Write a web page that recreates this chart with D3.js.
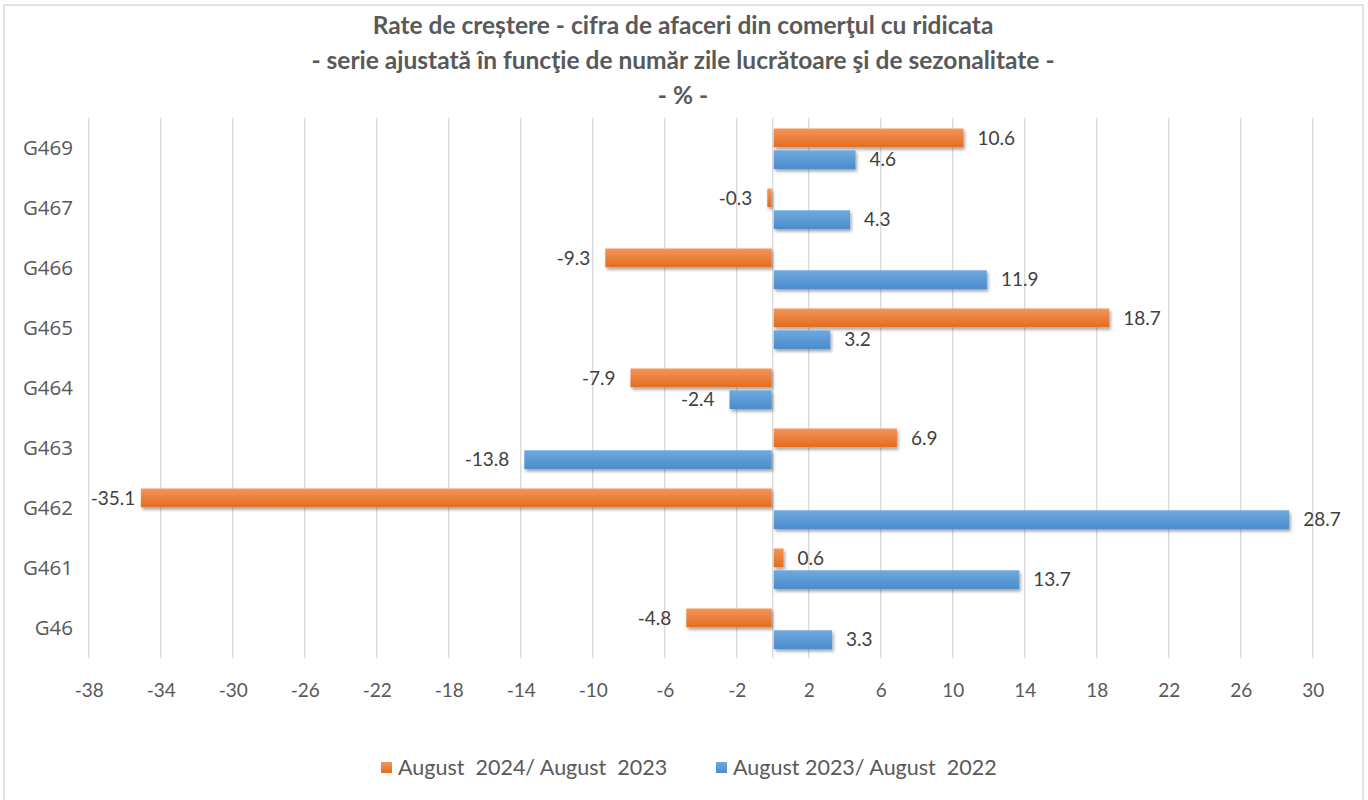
<!DOCTYPE html>
<html><head><meta charset="utf-8">
<script src="https://cdn.jsdelivr.net/npm/d3@7"></script>
<style>body{margin:0;background:#fff}svg{display:block}</style>
</head><body><svg id="c" width="1368" height="800"></svg>
<script>
const categories = ["G469","G467","G466","G465","G464","G463","G462","G461","G46"];
const seriesNames = ["August  2024/ August  2023","August 2023/ August  2022"];
const series2024 = [10.6,-0.3,-9.3,18.7,-7.9,6.9,-35.1,0.6,-4.8];
const series2023 = [4.6,4.3,11.9,3.2,-2.4,-13.8,28.7,13.7,3.3];
const tickValues = [-38,-34,-30,-26,-22,-18,-14,-10,-6,-2,2,6,10,14,18,22,26,30];
const titleLines = ["Rate de creștere - cifra de afaceri din comerţul cu ridicata","- serie ajustată în funcţie de număr zile lucrătoare şi de sezonalitate -","- % -"];
const colors = ["#ED7D31","#5B9BD5"];
const lightColors = ["#F3965C","#6FA9DE"];
const darkColors = ["#E36C1E","#4A8CCD"];

const svg = d3.select("#c");
const m={left:88.7,right:1312.7,top:118,bottom:658};
const defs = svg.append("defs");
colors.forEach((c,i)=>{
  const g=defs.append("linearGradient").attr("id","g"+i).attr("x1",0).attr("y1",0).attr("x2",0).attr("y2",1);
  g.append("stop").attr("offset","0%").attr("stop-color",lightColors[i]);
  g.append("stop").attr("offset","100%").attr("stop-color",darkColors[i]);
});
const f=defs.append("filter").attr("id","sh").attr("x","-5%").attr("y","-30%").attr("width","110%").attr("height","180%");
f.append("feDropShadow").attr("dx",1.5).attr("dy",2.5).attr("stdDeviation",1.8).attr("flood-color","#000").attr("flood-opacity",0.35);

svg.append("rect").attr("x",4).attr("y",5).attr("width",1359).attr("height",810).attr("fill","#fff").attr("stroke","#D9D9D9").attr("stroke-width",1.5);

const x=d3.scaleLinear().domain([-38,30]).range([m.left,m.right]);
const y0=d3.scaleBand().domain(categories).range([m.top,m.bottom]).padding(0);
const y1=d3.scaleBand().domain([0,1]).range([10.5,51]).paddingInner(0.14).paddingOuter(0);

// grid
svg.append("g").selectAll("line").data(tickValues).join("line")
  .attr("x1",d=>x(d)).attr("x2",d=>x(d)).attr("y1",m.top).attr("y2",m.bottom)
  .attr("stroke","#D9D9D9").attr("stroke-width",1.3);
svg.append("line").attr("x1",x(0)).attr("x2",x(0)).attr("y1",m.top).attr("y2",m.bottom).attr("stroke","#D9D9D9").attr("stroke-width",1.3);

// x tick labels
const xa = d3.axisBottom(x).tickValues(tickValues).tickSize(0).tickPadding(0).tickFormat(d=>d);
const gx = svg.append("g").attr("transform",`translate(0,${m.bottom})`).call(xa);
gx.select(".domain").remove();
gx.selectAll("text").attr("y",32).attr("dy","0.35em").attr("font-family","Lato").attr("font-size",19).attr("fill","#595959");

// y labels
const ya = d3.axisLeft(y0).tickSize(0).tickPadding(0);
const gy = svg.append("g").attr("transform",`translate(73,0)`).call(ya);
gy.select(".domain").remove();
gy.selectAll("text").attr("x",0).attr("font-family","'Open Sans'").attr("font-size",20.5).attr("fill","#595959");

const data=[];
categories.forEach((c,i)=>{
  data.push({c,s:0,v:series2024[i]});
  data.push({c,s:1,v:series2023[i]});
});
const bars=svg.append("g").attr("filter","url(#sh)");
bars.selectAll("rect").data(data).join("rect")
  .attr("x",d=>d.v>=0?x(0)+1:x(d.v))
  .attr("width",d=>Math.abs(x(d.v)-x(0))-1)
  .attr("y",d=>y0(d.c)+y1(d.s))
  .attr("height",y1.bandwidth())
  .attr("fill",d=>`url(#g${d.s})`);

svg.append("g").selectAll("text").data(data).join("text")
  .attr("x",d=>d.v>=0?x(d.v)+14:x(d.v)-15)
  .attr("y",d=>y0(d.c)+y1(d.s)+y1.bandwidth()/2)
  .attr("dy","0.35em")
  .attr("text-anchor",d=>d.v>=0?"start":"end")
  .attr("font-family","Lato").attr("font-size",19).attr("fill","#404040")
  .text(d=>d.v.toFixed(1))
  .each(function(d){
    if(d.v<0){
      const bb=this.getBBox();
      if(bb.x<m.left+2){ d3.select(this).attr("text-anchor","start").attr("x",m.left+2); }
    }
  });

// title
svg.append("g").selectAll("text").data(titleLines).join("text")
  .attr("x",683).attr("y",(d,i)=>25+i*35).attr("dy","0.35em").attr("text-anchor","middle")
  .attr("font-family","Lato").attr("font-weight","bold").attr("font-size",24.5).attr("fill","#595959")
  .text(d=>d);

// legend
const lg=svg.append("g");
const legX=[381,716];
seriesNames.forEach((n,i)=>{
  lg.append("rect").attr("x",legX[i]).attr("y",762).attr("width",11).attr("height",11).attr("fill",`url(#g${i})`);
  lg.append("text").attr("x",legX[i]+17).attr("y",767.5).attr("dy","0.35em").style("white-space","pre")
    .attr("font-family","Lato").attr("font-size",21.5).attr("fill","#595959").text(n);
});
</script></body></html>
